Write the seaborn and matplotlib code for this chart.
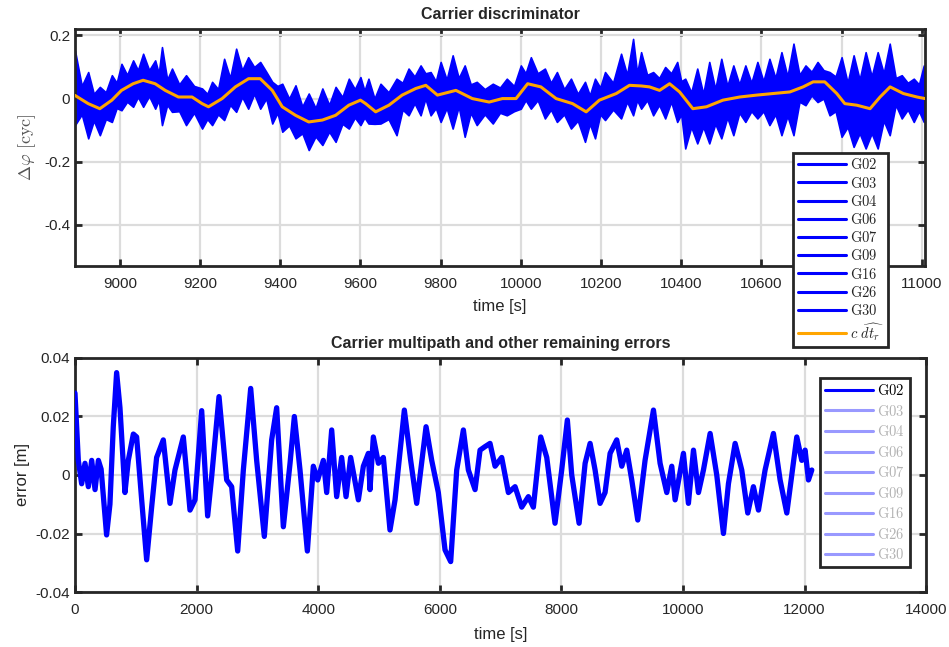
import matplotlib
matplotlib.use("Agg")
import matplotlib.pyplot as plt
from matplotlib.lines import Line2D
import numpy as np
import pandas as pd
import seaborn as sns

# ==============================
# Data
# ==============================
SATS = ["G02", "G03", "G04", "G06", "G07", "G09", "G16", "G26", "G30"]

# top panel: spike tips of the 9 satellite discriminator traces [cyc]
band_t = [8888, 8921, 8950, 8980, 9004, 9033, 9058, 9088, 9105, 9130, 9165, 9205, 9230,
          9260, 9290, 9320, 9350, 9380, 9405, 9438, 9471, 9505, 9538, 9571, 9600, 9620,
          9650, 9690, 9720, 9750, 9775, 9800, 9830, 9860, 9890, 9930, 9965, 10000, 10025,
          10060, 10090, 10125, 10160, 10185, 10210, 10250, 10280, 10300, 10330, 10360,
          10390, 10410, 10440, 10470, 10500, 10530, 10560, 10590, 10620, 10650, 10680,
          10710, 10740, 10770, 10800, 10830, 10860, 10890, 10920, 10950, 10980, 11005]
band_hi = [0.152, 0.084, 0.037, 0.074, 0.110, 0.121, 0.142, 0.121, 0.163, 0.095, 0.074,
           0.032, 0.053, 0.126, 0.158, 0.131, 0.116, 0.053, 0.047, 0.042, 0.016, 0.032,
           0.037, 0.063, 0.068, 0.063, 0.047, 0.063, 0.095, 0.105, 0.084, 0.116, 0.137,
           0.105, 0.053, 0.047, 0.063, 0.105, 0.131, 0.095, 0.084, 0.063, 0.053, 0.063,
           0.084, 0.142, 0.189, 0.147, 0.084, 0.100, 0.116, 0.063, 0.095, 0.116, 0.126,
           0.105, 0.105, 0.116, 0.126, 0.147, 0.174, 0.105, 0.116, 0.084, 0.131, 0.137,
           0.147, 0.147, 0.174, 0.074, 0.063, 0.105]
band_lo = [-0.084, -0.126, -0.116, -0.074, -0.037, -0.026, -0.026, -0.032, -0.084, -0.042,
           -0.084, -0.095, -0.084, -0.068, -0.042, -0.032, -0.032, -0.079, -0.105, -0.126,
           -0.163, -0.147, -0.137, -0.095, -0.084, -0.079, -0.079, -0.116, -0.053, -0.053,
           -0.053, -0.074, -0.095, -0.121, -0.084, -0.079, -0.053, -0.032, -0.032, -0.063,
           -0.074, -0.095, -0.137, -0.126, -0.068, -0.063, -0.053, -0.032, -0.053, -0.063,
           -0.074, -0.158, -0.142, -0.142, -0.126, -0.116, -0.074, -0.063, -0.084, -0.116,
           -0.116, -0.021, -0.011, -0.053, -0.121, -0.153, -0.158, -0.158, -0.116, -0.063,
           -0.074, -0.074]

# top panel: edges of the dense core of the traces, between the spikes [cyc]
core_t = [8905, 8935, 8965, 8992, 9018, 9045, 9073, 9097, 9118, 9148, 9185, 9218, 9245,
          9275, 9305, 9335, 9365, 9393, 9422, 9455, 9488, 9522, 9555, 9586, 9610, 9635,
          9670, 9705, 9735, 9762, 9788, 9815, 9845, 9875, 9910, 9948, 9983, 10012, 10042,
          10075, 10108, 10142, 10172, 10198, 10230, 10265, 10290, 10315, 10345, 10375,
          10400, 10425, 10455, 10485, 10515, 10545, 10575, 10605, 10635, 10665, 10695,
          10725, 10755, 10785, 10815, 10845, 10875, 10905, 10935, 10965, 10993]
core_hi = [0.040, 0.015, 0.020, 0.050, 0.075, 0.090, 0.090, 0.080, 0.060, 0.045, 0.040,
           0.015, 0.030, 0.065, 0.090, 0.100, 0.085, 0.040, 0.000, -0.025, -0.030, -0.020,
           0.005, 0.030, 0.025, 0.000, 0.020, 0.050, 0.070, 0.080, 0.055, 0.060, 0.065,
           0.045, 0.030, 0.035, 0.040, 0.080, 0.080, 0.050, 0.030, 0.015, 0.010, 0.035,
           0.050, 0.075, 0.080, 0.075, 0.065, 0.080, 0.055, 0.020, 0.015, 0.030, 0.040,
           0.045, 0.050, 0.055, 0.065, 0.070, 0.075, 0.085, 0.090, 0.070, 0.050, 0.060,
           0.070, 0.080, 0.065, 0.050, 0.045]
core_lo = [-0.050, -0.070, -0.065, -0.030, -0.010, 0.005, 0.008, -0.005, -0.020, -0.040,
           -0.045, -0.065, -0.050, -0.020, 0.005, 0.015, 0.000, -0.045, -0.085, -0.110,
           -0.120, -0.105, -0.080, -0.060, -0.060, -0.080, -0.065, -0.035, -0.015, 0.000,
           -0.030, -0.030, -0.025, -0.045, -0.050, -0.045, -0.040, -0.005, -0.005, -0.035,
           -0.050, -0.070, -0.080, -0.050, -0.035, -0.010, -0.005, -0.005, -0.020, -0.010,
           -0.050, -0.090, -0.090, -0.080, -0.060, -0.045, -0.040, -0.040, -0.050, -0.055,
           -0.010, 0.010, 0.000, -0.040, -0.090, -0.110, -0.110, -0.070, -0.020, -0.035,
           -0.040]

# top panel: receiver clock estimate c*dt_r [cyc]
clk_t = [8888, 8921, 8950, 8980, 9004, 9033, 9058, 9088, 9113, 9146, 9180, 9205, 9221,
         9255, 9288, 9321, 9350, 9380, 9405, 9438, 9471, 9505, 9538, 9571, 9600, 9613,
         9638, 9671, 9704, 9738, 9763, 9792, 9838, 9879, 9921, 9954, 9988, 10017, 10050,
         10088, 10129, 10163, 10196, 10238, 10271, 10300, 10321, 10346, 10371, 10396,
         10429, 10463, 10504, 10546, 10588, 10629, 10671, 10704, 10729, 10758, 10788,
         10808, 10838, 10871, 10896, 10921, 10954, 10988, 11008]
clk_v = [0.010, -0.016, -0.032, -0.005, 0.026, 0.047, 0.058, 0.047, 0.026, 0.005, 0.005,
         -0.016, -0.026, 0.000, 0.037, 0.063, 0.063, 0.026, -0.026, -0.053, -0.074, -0.068,
         -0.053, -0.021, -0.005, -0.016, -0.042, -0.021, 0.011, 0.032, 0.042, 0.011, 0.026,
         0.000, -0.011, 0.000, 0.000, 0.047, 0.037, 0.000, -0.016, -0.042, -0.005, 0.016,
         0.042, 0.040, 0.037, 0.026, 0.047, 0.021, -0.032, -0.026, -0.005, 0.005, 0.011,
         0.016, 0.021, 0.037, 0.053, 0.053, 0.016, -0.016, -0.021, -0.032, 0.005, 0.037,
         0.016, 0.005, 0.000]

# bottom panel: G02 carrier multipath error [m]
g02_t = [0, 55, 110, 165, 220, 275, 330, 385, 430, 520, 575, 630, 685, 740, 822, 877, 960,
         1014, 1097, 1179, 1261, 1343, 1453, 1563, 1645, 1782, 1892, 1974, 2084, 2182,
         2248, 2369, 2495, 2577, 2676, 2769, 2890, 2988, 3114, 3235, 3317, 3427, 3537,
         3608, 3701, 3822, 3920, 3992, 4085, 4140, 4222, 4304, 4386, 4458, 4534, 4661,
         4743, 4825, 4852, 4907, 4990, 5072, 5181, 5264, 5417, 5521, 5620, 5774, 5867,
         5976, 6086, 6179, 6278, 6388, 6470, 6580, 6662, 6744, 6826, 6909, 7018, 7128,
         7238, 7347, 7457, 7539, 7660, 7759, 7895, 8005, 8098, 8170, 8291, 8390, 8472,
         8554, 8636, 8718, 8801, 8910, 8993, 9075, 9157, 9256, 9376, 9514, 9623, 9733,
         9815, 9870, 10007, 10089, 10172, 10254, 10336, 10446, 10555, 10665, 10747,
         10857, 10966, 11065, 11158, 11241, 11350, 11487, 11597, 11707, 11871, 11953,
         12008, 12063, 12118]
g02_v = [0.028, 0.005, -0.003, 0.004, -0.004, 0.005, -0.005, 0.005, 0.002, -0.0205,
         -0.010, 0.0165, 0.035, 0.023, -0.006, 0.005, 0.014, 0.013, -0.0085, -0.029,
         -0.011, 0.006, 0.012, -0.0097, 0.0017, 0.013, -0.012, -0.0085, 0.022, -0.014,
         -0.0006, 0.0268, -0.0017, -0.004, -0.026, 0.0017, 0.0296, 0.005, -0.021, 0.012,
         0.023, -0.0177, 0.004, 0.020, 0.0017, -0.026, 0.003, -0.0017, 0.005, -0.006,
         0.0154, -0.0074, 0.006, -0.0074, 0.006, -0.0085, 0.003, 0.0074, -0.005, 0.013,
         0.004, 0.006, -0.0188, -0.0085, 0.0222, 0.005, -0.0097, 0.0165, 0.005, -0.006,
         -0.0256, -0.0296, 0.0017, 0.0154, 0.0017, -0.005, 0.0085, 0.0097, 0.0108, 0.003,
         0.006, -0.006, -0.004, -0.011, -0.0074, -0.011, 0.013, 0.006, -0.0165, 0.0017,
         0.0188, 0.000, -0.0165, 0.004, 0.0108, 0.0017, -0.0097, -0.006, 0.0074, 0.012,
         0.003, 0.0085, -0.0017, -0.0154, 0.005, 0.0222, 0.004, -0.006, 0.003, -0.0085,
         0.0074, -0.0097, 0.0085, -0.006, 0.0017, 0.0142, 0.000, -0.020, -0.003, 0.0108,
         0.0017, -0.013, -0.004, -0.012, 0.0017, 0.0142, -0.0017, -0.013, 0.013, 0.005,
         0.0085, -0.0017, 0.0017]

# top x tick labels (10800 sits behind the legend in the reference)
top_xticks = [9000, 9200, 9400, 9600, 9800, 10000, 10200, 10400, 10600, 10800, 11000]
top_xlabels = ["9000", "9200", "9400", "9600", "9800", "10000", "10200", "10400",
               "10600", "", "11000"]

# ==============================
# Style
# ==============================
sns.set_style("ticks")
plt.rcParams["font.family"] = ["Liberation Sans", "DejaVu Sans"]
plt.rcParams["mathtext.fontset"] = "cm"

BLUE = "#0000ff"
ORANGE = "#ffa500"
DARK = "#262626"
GRID = "#dcdcdc"


def style_axes(ax):
    ax.grid(True, color=GRID, linewidth=1.6)
    ax.set_axisbelow(True)
    for sp in ax.spines.values():
        sp.set_color(DARK)
        sp.set_linewidth(2.0)
        sp.set_visible(True)
    ax.tick_params(direction="in", length=5, width=2, colors=DARK, labelsize=11,
                   top=True, right=True, labelcolor=DARK)
    ax.tick_params(axis="x", pad=8)


fig = plt.figure(figsize=(9.49, 6.47), dpi=100)
ax1 = fig.add_axes([0.079, 0.589, 0.8957, 0.366])
ax2 = fig.add_axes([0.079, 0.085, 0.897, 0.3617])

# ==============================
# Top: carrier discriminator
# ==============================
band = pd.concat([
    pd.DataFrame({"t": band_t, "hi": band_hi, "lo": band_lo}),
    pd.DataFrame({"t": core_t, "hi": core_hi, "lo": core_lo}),
]).sort_values("t")
ax1.fill_between(band["t"], band["lo"], band["hi"], color=BLUE, linewidth=1.2,
                 edgecolor=BLUE, zorder=2)
clk = pd.DataFrame({"t": clk_t, "v": clk_v})
sns.lineplot(data=clk, x="t", y="v", color=ORANGE, linewidth=2.2, ax=ax1, zorder=3)

ax1.set_xlim(8888, 11008)
ax1.set_ylim(-0.53, 0.22)
ax1.set_xticks(top_xticks)
ax1.set_xticklabels(top_xlabels)
ax1.set_yticks([-0.4, -0.2, 0, 0.2])
ax1.set_yticklabels(["-0.4", "-0.2", "0", "0.2"])
ax1.set_title("Carrier discriminator", fontsize=11.5, fontweight="bold", pad=7)
ax1.set_xlabel("time [s]", fontsize=12, color=DARK, labelpad=6)
ax1.set_ylabel(r"$\Delta\varphi\ [\mathrm{cyc}]$", fontsize=13, color="#555555")
style_axes(ax1)

h_top = [Line2D([], [], color=BLUE, lw=2.2) for _ in SATS] + [Line2D([], [], color=ORANGE, lw=2.2)]
lab_top = [rf"$\mathrm{{{s}}}$" for s in SATS] + [r"$c\ \widehat{dt_r}$"]
leg1 = ax1.legend(h_top, lab_top, loc="upper left", bbox_to_anchor=(0.845, 0.477),
                  fontsize=10.5, frameon=True, fancybox=False, framealpha=1,
                  edgecolor=DARK, handlelength=3.3, handletextpad=0.3,
                  labelspacing=0.22, borderpad=0.3, borderaxespad=0)
leg1.get_frame().set_linewidth(2.0)
leg1.set_zorder(10)

# ==============================
# Bottom: multipath error
# ==============================
g02 = pd.DataFrame({"t": g02_t, "v": g02_v})
sns.lineplot(data=g02, x="t", y="v", color=BLUE, linewidth=3.8, ax=ax2, zorder=3)

ax2.set_xlim(0, 14000)
ax2.set_ylim(-0.04, 0.04)
ax2.set_xticks(np.arange(0, 14001, 2000))
ax2.set_yticks([-0.04, -0.02, 0, 0.02, 0.04])
ax2.set_yticklabels(["-0.04", "-0.02", "0", "0.02", "0.04"])
ax2.set_title("Carrier multipath and other remaining errors", fontsize=11.5,
              fontweight="bold", pad=7)
ax2.set_xlabel("time [s]", fontsize=12, color=DARK, labelpad=7)
ax2.set_ylabel("error [m]", fontsize=12, color=DARK)
style_axes(ax2)

h_bot = [Line2D([], [], color=BLUE, lw=2.2)] + \
        [Line2D([], [], color="#9999ff", lw=2.2) for _ in SATS[1:]]
lab_bot = [rf"$\mathrm{{{s}}}$" for s in SATS]
leg2 = ax2.legend(h_bot, lab_bot, loc="upper left", bbox_to_anchor=(0.875, 0.915),
                  fontsize=10.5, frameon=True, fancybox=False, framealpha=1,
                  edgecolor=DARK, handlelength=3.3, handletextpad=0.3,
                  labelspacing=0.38, borderpad=0.35, borderaxespad=0)
leg2.get_frame().set_linewidth(2.0)
for i, txt in enumerate(leg2.get_texts()):
    txt.set_color("black" if i == 0 else "#b3b3b3")

fig.savefig("out.png", dpi=100)
